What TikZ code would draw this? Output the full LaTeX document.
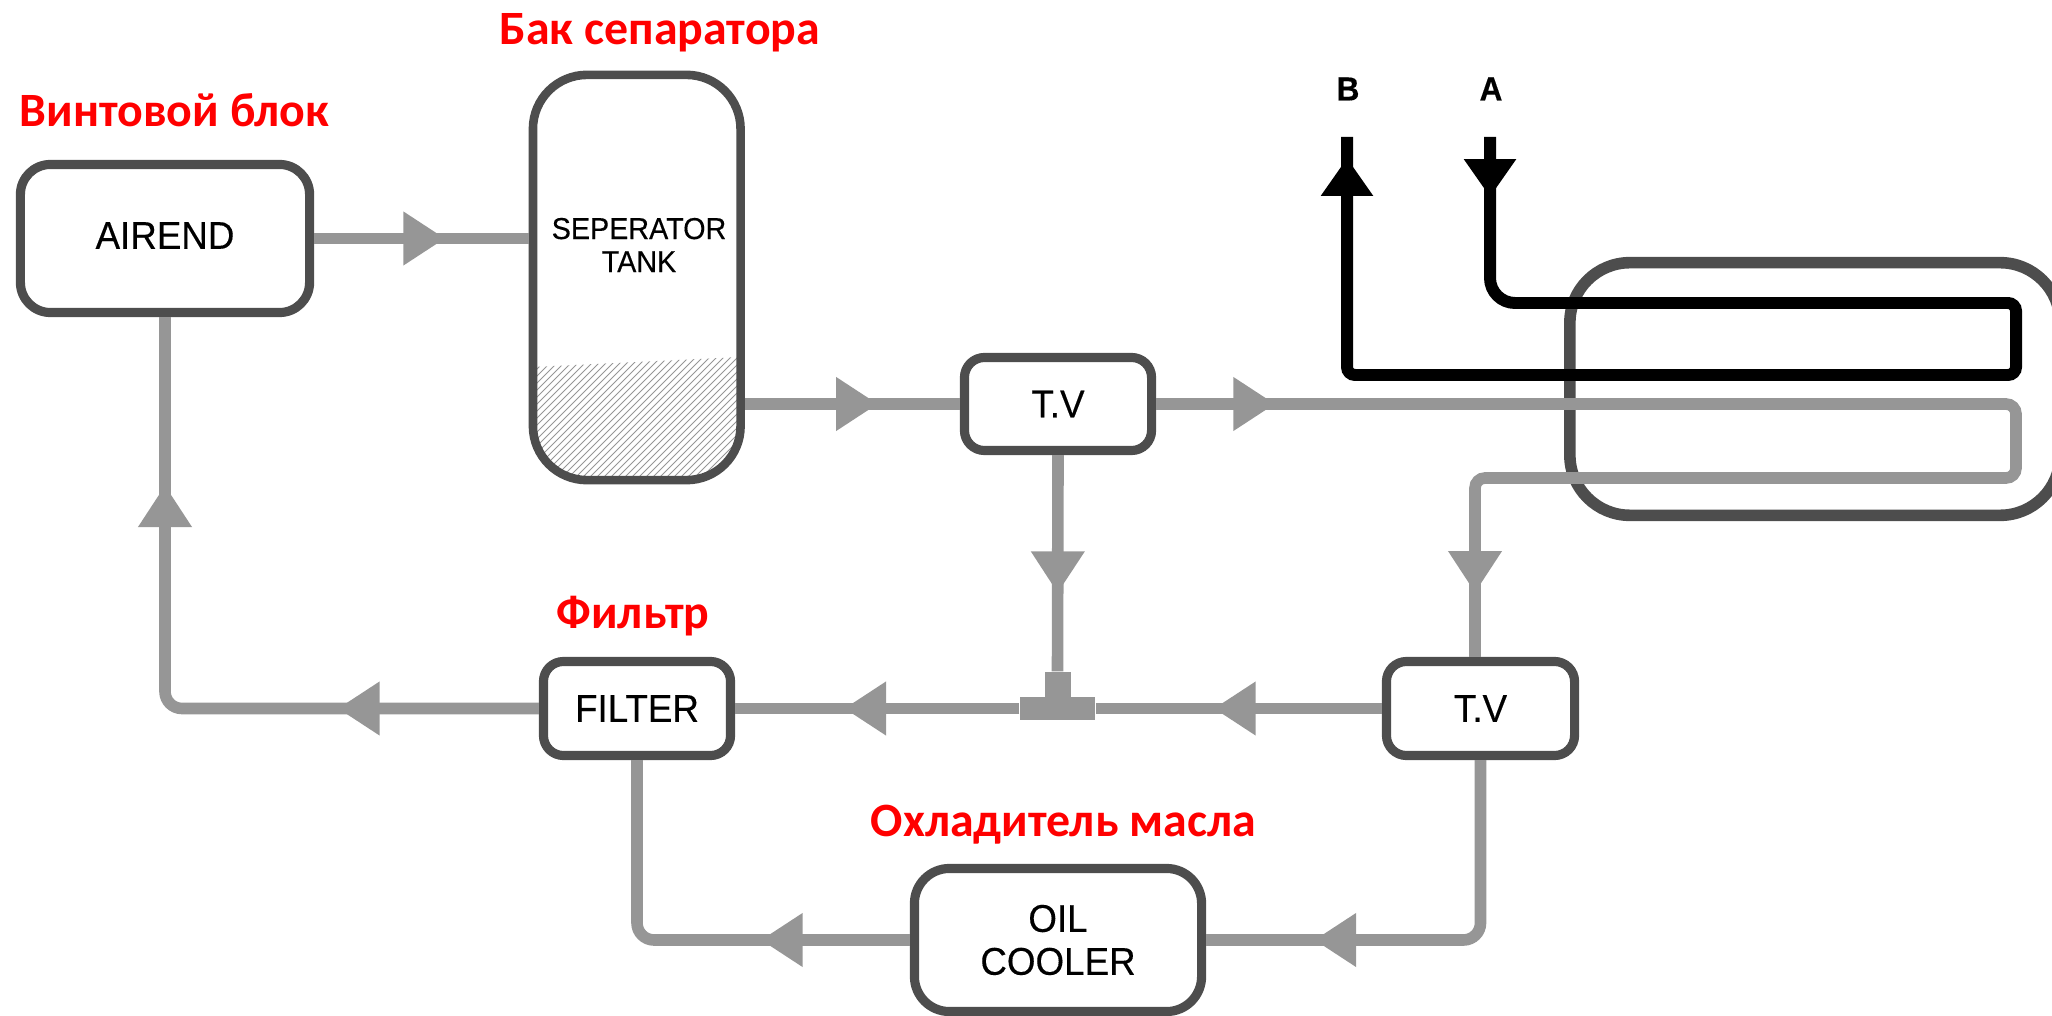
\documentclass[tikz,border=0pt]{standalone}
\usepackage{fontspec}
\setmainfont[FakeStretch=0.95, FakeBold=0.3]{Liberation Sans}
\newfontfamily\labelfont{Carlito}
\usetikzlibrary{arrows.meta,decorations.markings}
\definecolor{pipegray}{RGB}{150,150,150}
\definecolor{boxgray}{RGB}{77,77,77}
\tikzstyle{box}=[fill=white, draw=boxgray, shape=rectangle, line width=2.6pt, inner sep=0pt,
        rounded corners=0.3cm, align=center, font=\fontsize{11}{12.2}\selectfont]
\tikzstyle{small text}=[inner sep=0pt, align=center, font=\fontsize{8.6}{9.4}\selectfont]
\tikzstyle{red label}=[text=red, inner sep=0pt, anchor=base west, font=\labelfont\bfseries\fontsize{13.6}{15}\selectfont]
\tikzstyle{port label}=[inner sep=0pt, font=\bfseries\fontsize{9.5}{11}\selectfont]
\tikzstyle{tee}=[fill=pipegray, shape=rectangle, inner sep=0pt]
\tikzstyle{pipe}=[-, draw=pipegray, line width=3.3pt, rounded corners=0.17cm]
\tikzstyle{black pipe}=[-, draw=black, line width=3.4pt, rounded corners=0.08cm]
\tikzstyle{hatch}=[-, draw=pipegray, line width=0.25pt]
\tikzset{
    tip/.style={postaction={decorate, decoration={markings, mark=at position #1 with
        {\arrow{Triangle[length=11.9pt, width=14.5pt]}}}}},
    black tip/.style={postaction={decorate, decoration={markings, mark=at position #1 with
        {\arrow{Triangle[length=10.8pt, width=14.2pt]}}}}},
}
\begin{document}
\begin{tikzpicture}[x=0.01cm, y=-0.01cm]
    \useasboundingbox (0, 0) rectangle (2052, 1016);

    \begin{scope}
        \clip [rounded corners=0.45cm] (533, 75) rectangle (740, 480);
        \clip (533, 367) -- (740, 357) -- (740, 480) -- (533, 480) -- cycle;
        \foreach \i in {400, 407, ..., 750}
            \draw [style=hatch] (\i, 485) -- ++(135, -135);
    \end{scope}

    \node [style=box, fill=none, minimum width=2.075cm, minimum height=4.05cm, rounded corners=0.54cm, line width=2.45pt] (tank) at (636.75, 277.5) {};
    \node [style=small text] (tank text) at (639, 245) {SEPERATOR\\TANK};
    \node [style=box, minimum width=2.89cm, minimum height=1.48cm, text depth=0.06cm] (airend) at (165, 238.5) {AIREND};
    \node [style=box, minimum width=1.87cm, minimum height=0.93cm, rounded corners=0.2cm] (tv1) at (1058, 404) {T.V};
    \node [style=box, minimum width=1.88cm, minimum height=0.94cm, rounded corners=0.2cm] (tv2) at (1480.5, 708.5) {T.V};
    \node [style=box, minimum width=1.87cm, minimum height=0.94cm, rounded corners=0.2cm] (filter) at (637, 708.5) {FILTER};
    \node [style=box, minimum width=2.87cm, minimum height=1.43cm, rounded corners=0.35cm] (cooler) at (1058, 940) {OIL\\COOLER};
    \node [style=box, fill=none, minimum width=4.9cm, minimum height=2.525cm, rounded corners=0.6cm, line width=3.3pt] (exchanger) at (1815, 389) {};

    \node [style=tee, minimum width=0.75cm, minimum height=0.22cm] (tee) at (1057.5, 708.5) {};
    \node [style=tee, minimum width=0.26cm, minimum height=0.3cm] (tee stem) at (1057.5, 687) {};

    \node [style=red label] (airend label) at (19, 127) {Винтовой блок};
    \node [style=red label] (tank label) at (499, 45) {Бак сепаратора};
    \node [style=red label] (filter label) at (556, 628) {Фильтр};
    \node [style=red label] (cooler label) at (870, 836) {Охладитель масла};
    \node [style=port label] (b label) at (1348, 89) {B};
    \node [style=port label] (a label) at (1491, 89) {A};

    \coordinate (b) at (1347, 137);
    \coordinate (a) at (1490, 137);
    \coordinate (coil1) at (2016, 404);
    \coordinate (coil2) at (2016, 478);
    \coordinate (coil3) at (1475, 478);

    \draw [style=pipe, tip=1.31cm] (airend.east) to (airend.east -| tank.west);
    \draw [style=pipe, tip=1.33cm] (tv1.west -| tank.east) to (tv1.west);
    \draw [style=pipe, tip=1.38cm] (tv1.south) to (tee stem.north);
    \draw [style=pipe, tip=1.68cm] (tv2.west) to (tee.east);
    \draw [style=pipe, tip=1.75cm] (tee.west) to (filter.east);
    \draw [style=pipe, tip=2.01cm, tip=-1.68cm] (filter.west) -| (airend.south);
    \draw [style=pipe, tip=1.49cm] (cooler.west) -| (filter.south);
    \draw [style=pipe, tip=-1.08cm] (tv2.south) |- (cooler.east);
    \draw [style=pipe, rounded corners=0.1cm, tip=1.19cm, tip=-0.64cm] (tv1.east) -- (coil1) -- (coil2) -- (coil3)
        [rounded corners=0.2cm] -- (coil3 |- tv2.north);
    \draw [style=black pipe, black tip=0.6cm, black tip=-0.21cm] (a) [rounded corners=0.25cm] -- (1490, 303)
        [rounded corners=0.08cm] -- (2016, 303) -- (2016, 375) -- (1347, 375) -- (b);
\end{tikzpicture}
\end{document}
